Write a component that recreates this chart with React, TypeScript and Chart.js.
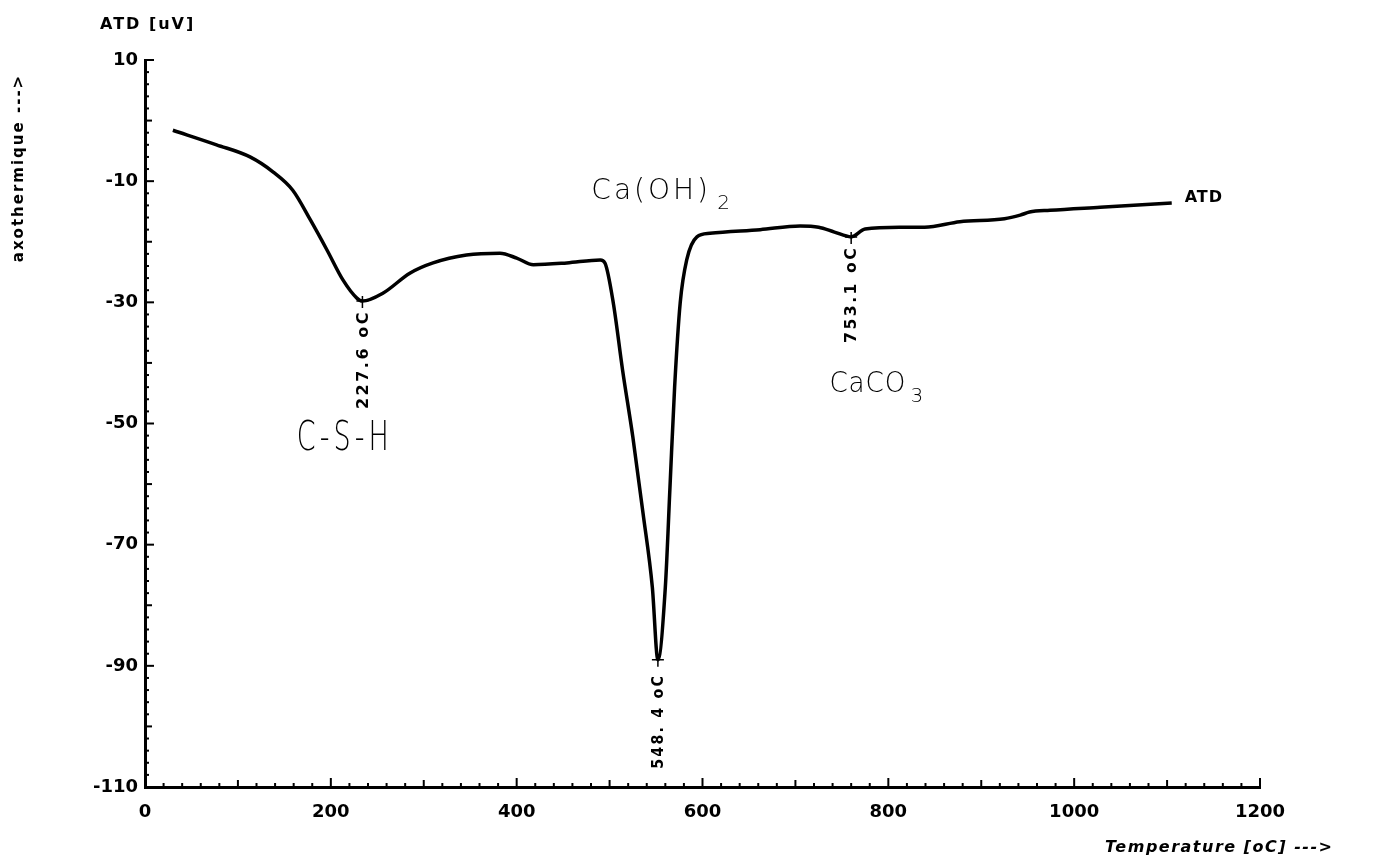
import React, { useEffect, useRef } from "react";
import { Chart, registerables } from "chart.js";

Chart.register(...registerables);

const temperatures = [30, 77, 113, 138, 159, 178, 196, 213, 228, 234, 256, 285, 310, 346, 382, 400, 418, 454, 490, 495, 504, 514, 525, 536, 546, 552, 560, 565, 570, 576, 583, 594, 608, 662, 705, 725, 742, 760, 775, 812, 839, 877, 925, 942, 952, 974, 1028, 1105];
const atdValues = [-1.6, -4, -6, -8.5, -11.5, -16.4, -21.4, -26.3, -29.3, -29.8, -28.5, -25.2, -23.5, -22.2, -21.9, -22.7, -23.8, -23.5, -23, -23.5, -30.1, -41.2, -52.2, -64.8, -77, -89, -77, -60.5, -44, -30.1, -23, -19.2, -18.6, -18, -17.4, -17.6, -18.4, -19.2, -17.9, -17.6, -17.6, -16.7, -16.2, -15.6, -15.1, -14.8, -14.3, -13.6];

const peakTemps = [234, 552, 760];
const peakValues = [-29.8, -89, -19.2];
const peakLabels = ["227.6 oC", "548. 4 oC", "753.1 oC"];

const noteTexts = ["C-S-H", "Ca(OH)", "CaCO"];
const noteSubs = ["", "2", "3"];
const noteTemps = [215, 546, 778];
const noteValues = [-52.7, -11.8, -43.6];

const xTickLabels = [0, 200, 400, 600, 800, 1000, 1200];
const yTickLabels = [10, -10, -30, -50, -70, -90, -110];

const plotFont = "'DejaVu Sans', sans-serif";
// style of the hand-written notes: font size, target width, letter spacing
const noteStyles = [
  { size: 40, width: 96, spacing: 6 },
  { size: 28, width: 122, spacing: 3 },
  { size: 28, width: 77, spacing: 1 },
];
// style of the peak labels: gap below the marker, max length
const peakStyles = [
  { gap: 9, len: 100 },
  { gap: 14, len: 95 },
  { gap: 9, len: 97 },
];

const decorPlugin = {
  id: "decor",
  afterDraw(chart: any) {
    const ctx = chart.ctx as CanvasRenderingContext2D;
    const xs = chart.scales.x;
    const ys = chart.scales.y;
    const area = chart.chartArea;
    ctx.save();
    ctx.strokeStyle = "#000";
    ctx.fillStyle = "#000";
    ctx.lineWidth = 2;
    for (let v = 0; v <= 1200; v += 20) {
      const px = xs.getPixelForValue(v);
      const len = v % 200 === 0 ? 9 : v % 100 === 0 ? 7 : 4;
      ctx.beginPath();
      ctx.moveTo(px, area.bottom);
      ctx.lineTo(px, area.bottom - len);
      ctx.stroke();
    }
    for (let v = -110; v <= 10; v += 2) {
      const py = ys.getPixelForValue(v);
      const len = (v + 110) % 20 === 0 ? 9 : (v + 110) % 10 === 0 ? 7 : 4;
      ctx.beginPath();
      ctx.moveTo(area.left, py);
      ctx.lineTo(area.left + len, py);
      ctx.stroke();
    }
    // peak markers and labels
    ctx.font = `bold 16px ${plotFont}`;
    (ctx as any).letterSpacing = "2.5px";
    peakTemps.forEach((t, i) => {
      const st = peakStyles[i];
      const px = xs.getPixelForValue(t);
      const py = ys.getPixelForValue(peakValues[i]);
      ctx.lineWidth = 1.5;
      ctx.beginPath();
      ctx.moveTo(px - 6, py);
      ctx.lineTo(px + 6, py);
      ctx.moveTo(px, py - 5);
      ctx.lineTo(px, py + 7);
      ctx.stroke();
      ctx.save();
      ctx.translate(px + 1, py + st.gap);
      ctx.rotate(-Math.PI / 2);
      ctx.textAlign = "right";
      ctx.textBaseline = "middle";
      ctx.fillText(peakLabels[i], 0, 0, st.len);
      ctx.restore();
    });
    // series label at end
    const lastX = xs.getPixelForValue(temperatures[temperatures.length - 1]);
    const lastY = ys.getPixelForValue(atdValues[atdValues.length - 1]);
    (ctx as any).letterSpacing = "1px";
    ctx.font = `bold 16px ${plotFont}`;
    ctx.textAlign = "left";
    ctx.textBaseline = "middle";
    ctx.fillText("ATD", lastX + 13, lastY - 5);
    // hand-written notes
    noteTexts.forEach((txt, i) => {
      const st = noteStyles[i];
      const px = xs.getPixelForValue(noteTemps[i]);
      const py = ys.getPixelForValue(noteValues[i]);
      (ctx as any).letterSpacing = `${st.spacing}px`;
      ctx.font = `200 ${st.size}px ${plotFont}`;
      const natural = ctx.measureText(txt).width;
      const sx = Math.min(1, st.width / natural);
      ctx.save();
      ctx.translate(px - st.width / 2, py);
      ctx.scale(sx, 1);
      ctx.textAlign = "left";
      ctx.textBaseline = "middle";
      ctx.fillText(txt, 0, 0);
      ctx.restore();
      const sub = noteSubs[i];
      if (sub) {
        ctx.font = `300 20px ${plotFont}`;
        ctx.textAlign = "left";
        ctx.textBaseline = "middle";
        ctx.fillText(sub, px + st.width / 2 + 4, py + 12);
      }
    });
    // axis titles
    (ctx as any).letterSpacing = "2px";
    ctx.font = `bold 16px ${plotFont}`;
    ctx.textAlign = "left";
    ctx.textBaseline = "middle";
    ctx.fillText("ATD [uV]", 100, 25);
    (ctx as any).letterSpacing = "1.5px";
    ctx.font = `italic bold 16px ${plotFont}`;
    ctx.fillText("Temperature [oC] --->", 1105, 848);
    ctx.save();
    ctx.translate(19, 168);
    ctx.rotate(-Math.PI / 2);
    ctx.textAlign = "center";
    (ctx as any).letterSpacing = "2px";
    ctx.font = `bold 15px ${plotFont}`;
    ctx.fillText("axothermique --->", 0, 0);
    ctx.restore();
    ctx.restore();
  },
};

export default function App() {
  const canvasRef = useRef<HTMLCanvasElement | null>(null);

  useEffect(() => {
    document.body.style.margin = "0";
    const canvas = canvasRef.current;
    if (!canvas) return;
    const chart = new Chart(canvas, {
      type: "line",
      data: {
        datasets: [
          {
            label: "ATD",
            data: temperatures.map((t, i) => ({ x: t, y: atdValues[i] })),
            borderColor: "#000",
            borderWidth: 3.5,
            pointRadius: 0,
            fill: false,
            cubicInterpolationMode: "monotone",
          },
        ],
      },
      options: {
        responsive: false,
        animation: false,
        events: [],
        layout: { padding: { left: 45, right: 114, top: 60, bottom: 37 } },
        plugins: { legend: { display: false }, tooltip: { enabled: false } },
        scales: {
          x: {
            type: "linear",
            min: 0,
            max: 1200,
            grid: { display: false, drawTicks: false },
            border: { display: true, color: "#000", width: 3 },
            afterBuildTicks: (scale: any) => {
              scale.ticks = xTickLabels.map((v) => ({ value: v }));
            },
            afterFit: (scale: any) => {
              scale.height = 40;
            },
            ticks: {
              padding: 15,
              color: "#000",
              font: { family: plotFont, size: 18, weight: "bold" },
              maxRotation: 0,
              autoSkip: false,
              callback: (v: any) => String(v),
            },
          },
          y: {
            type: "linear",
            min: -110,
            max: 10,
            grid: { display: false, drawTicks: false },
            border: { display: true, color: "#000", width: 3 },
            afterBuildTicks: (scale: any) => {
              scale.ticks = yTickLabels.map((v) => ({ value: v }));
            },
            afterFit: (scale: any) => {
              scale.width = 100;
            },
            ticks: {
              padding: 7,
              color: "#000",
              font: { family: plotFont, size: 18, weight: "bold" },
              autoSkip: false,
              callback: (v: any) => String(v),
            },
          },
        },
      },
      plugins: [decorPlugin],
    } as any);
    return () => chart.destroy();
  }, []);

  return (
    <div style={{ width: 1374, height: 864, background: "#fff" }}>
      <canvas ref={canvasRef} width={1374} height={864} />
    </div>
  );
}
